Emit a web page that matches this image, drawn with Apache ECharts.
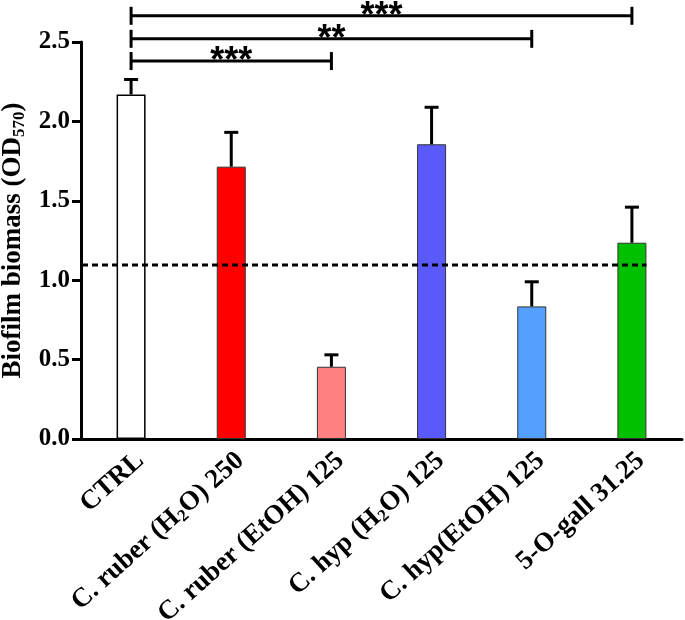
<!DOCTYPE html>
<html><head><meta charset="utf-8">
<script src="https://cdn.jsdelivr.net/npm/echarts@6/dist/echarts.min.js"></script>
<style>html,body{margin:0;padding:0;background:#fff}#c{width:685px;height:620px}</style>
</head><body><div id="c"></div>
<script>
// ---- data ----
const categories = ['CTRL', 'C. ruber (H2O) 250', 'C. ruber (EtOH) 125', 'C. hyp (H2O) 125', 'C. hyp(EtOH) 125', '5-O-gall 31.25'];
const means = [2.17, 1.715, 0.455, 1.856, 0.835, 1.236];
const errors = [0.094, 0.216, 0.075, 0.233, 0.155, 0.224];
const barColors = ['#FFFFFF', '#FF0000', '#FF8080', '#5A5AFA', '#55A0FF', '#00C000'];
const threshold = 1.095;
const bracketFrom = [0, 0, 0];
const bracketTo = [2, 4, 5];
const bracketLevel = [2.38, 2.52, 2.665];
const bracketLabel = ['***', '**', '***'];
const yMin = 0, yMax = 2.5, yInterval = 0.5;

// ---- style ----
const SERIF = '"Liberation Serif", "Times New Roman", serif';
const BAR_W = 29;

function richify(s) {
  const m = s.match(/^(.*?)H2O(.*)$/);
  if (m) return '{a|' + m[1] + 'H}{s|2}{a|O' + m[2] + '}';
  return '{a|' + s + '}';
}

const chart = echarts.init(document.getElementById('c'), null, {renderer: 'canvas'});
chart.setOption({
  animation: false,
  backgroundColor: '#fff',
  grid: {left: 81, right: 3, top: 42, bottom: 181, containLabel: false, outerBoundsMode: 'none'},
  xAxis: {
    type: 'category',
    data: categories,
    axisLine: {lineStyle: {color: '#000', width: 3}},
    axisTick: {show: false},
    axisLabel: {
      interval: 0, rotate: 42, margin: 8, verticalAlign: 'top',
      formatter: v => richify(v),
      rich: {
        a: {fontFamily: SERIF, fontWeight: 'bold', fontSize: 27, color: '#000', lineHeight: 28, verticalAlign: 'top'},
        s: {fontFamily: SERIF, fontWeight: 'bold', fontSize: 17, color: '#000', lineHeight: 17, padding: [14, 0, 0, 0], verticalAlign: 'bottom'}
      }
    }
  },
  yAxis: {
    type: 'value', min: yMin, max: yMax, interval: yInterval,
    splitLine: {show: false},
    axisLine: {show: true, lineStyle: {color: '#000', width: 3}},
    axisTick: {show: true, length: 9, lineStyle: {color: '#000', width: 3}},
    axisLabel: {
      margin: 11, color: '#000', fontFamily: SERIF, fontWeight: 'bold', fontSize: 25,
      formatter: v => v.toFixed(1)
    },
    name: '{a|Biofilm biomass (OD}{s|570}{a|)}',
    nameLocation: 'middle', nameRotate: 90, nameGap: 48,
    nameTextStyle: {
      rich: {
        a: {fontFamily: SERIF, fontWeight: 'bold', fontSize: 27, color: '#000', lineHeight: 28, verticalAlign: 'top'},
        s: {fontFamily: SERIF, fontWeight: 'bold', fontSize: 17, color: '#000', lineHeight: 17, padding: [14, 0, 0, 0], verticalAlign: 'bottom'}
      }
    }
  },
  series: [
    {
      type: 'bar', barWidth: BAR_W, z: 2,
      data: means.map((v, i) => ({
        value: v,
        itemStyle: {color: barColors[i], borderColor: i === 0 ? '#000' : '#333', borderWidth: i === 0 ? 1.5 : 1}
      }))
    },
    {
      type: 'custom', z: 3, clip: false,
      encode: {x: 0, y: 1},
      data: means.map((v, i) => [i, v, errors[i]]),
      renderItem: (params, api) => {
        const base = api.coord([api.value(0), api.value(1)]);
        const top = api.coord([api.value(0), api.value(1) + api.value(2)]);
        return {type: 'group', children: [
          {type: 'line', shape: {x1: base[0], y1: base[1], x2: top[0], y2: top[1]}, style: {stroke: '#000', lineWidth: 3}},
          {type: 'line', shape: {x1: top[0] - 7, y1: top[1], x2: top[0] + 7, y2: top[1]}, style: {stroke: '#000', lineWidth: 3}}
        ]};
      }
    },
    {
      type: 'custom', z: 4, clip: false,
      encode: {x: 0, y: 1},
      data: [[categories.length - 1, threshold]],
      renderItem: (params, api) => {
        const p = api.coord([api.value(0), api.value(1)]);
        const x1 = params.coordSys.x;
        return {type: 'line', shape: {x1: x1 + 1, y1: p[1], x2: p[0] + BAR_W / 2, y2: p[1]},
          style: {stroke: '#000', lineWidth: 3, lineDash: [6, 4]}};
      }
    },
    {
      type: 'custom', z: 5, clip: false,
      encode: {x: 0, y: 2},
      data: bracketFrom.map((f, i) => [f, bracketTo[i], bracketLevel[i]]),
      renderItem: (params, api) => {
        const a = api.coord([api.value(0), api.value(2)]);
        const b = api.coord([api.value(1), api.value(2)]);
        const y = a[1];
        return {type: 'group', children: [
          {type: 'line', shape: {x1: a[0], y1: y, x2: b[0], y2: y}, style: {stroke: '#000', lineWidth: 3}},
          {type: 'line', shape: {x1: a[0], y1: y - 9, x2: a[0], y2: y + 9}, style: {stroke: '#000', lineWidth: 3}},
          {type: 'line', shape: {x1: b[0], y1: y - 9, x2: b[0], y2: y + 9}, style: {stroke: '#000', lineWidth: 3}},
          {type: 'text', x: (a[0] + b[0]) / 2, y: y + 1,
            style: {text: bracketLabel[params.dataIndex], align: 'center', verticalAlign: 'middle',
              fontFamily: '"Liberation Sans", Arial, sans-serif', fontWeight: 'bold', fontSize: 36, fill: '#000'}}
        ]};
      }
    }
  ]
});
</script></body></html>
